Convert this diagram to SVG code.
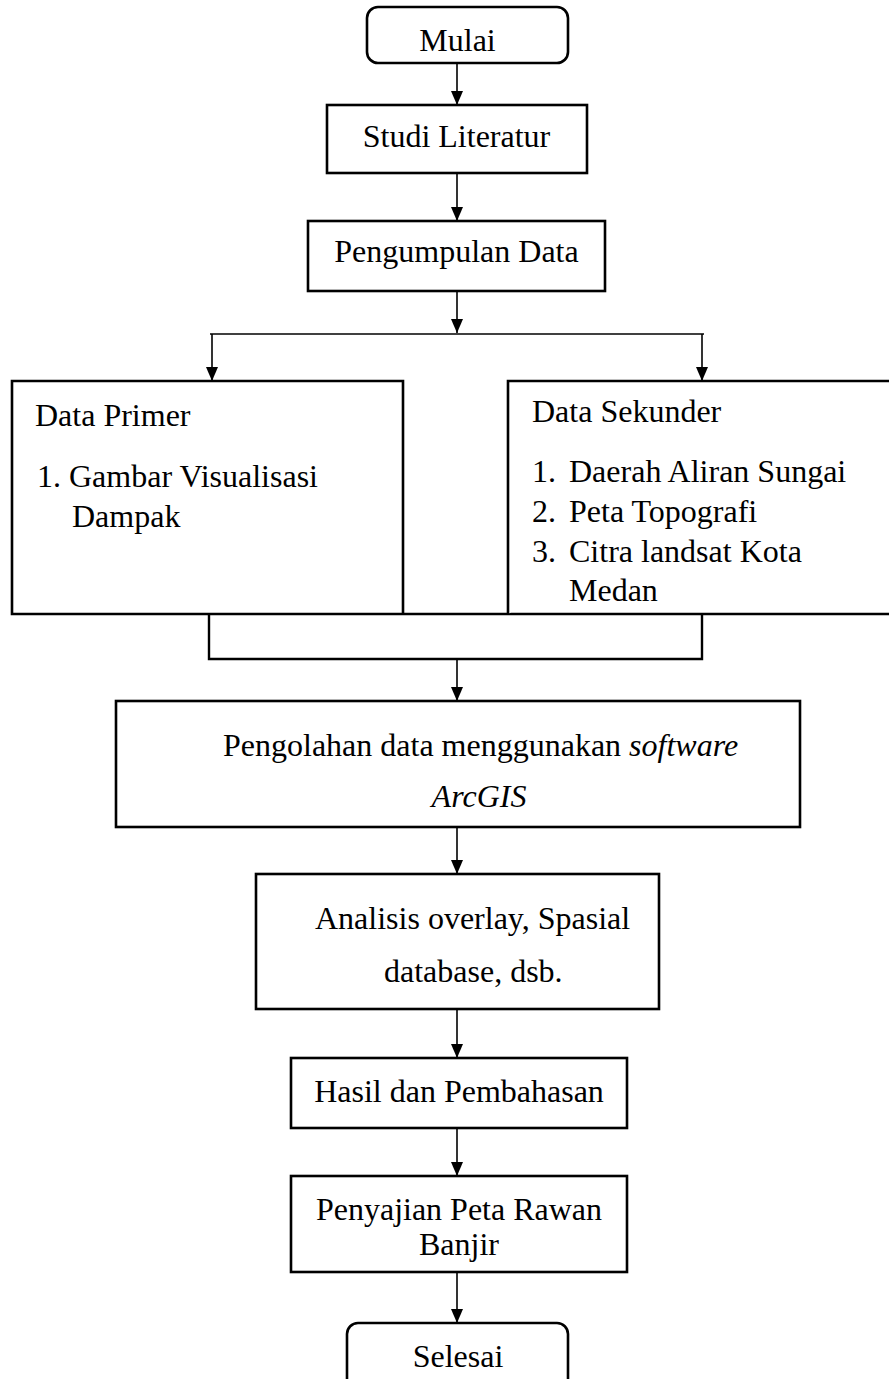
<svg xmlns="http://www.w3.org/2000/svg" width="889" height="1379" viewBox="0 0 889 1379">
<style>
.box{fill:#fff;stroke:#000;stroke-width:2.6}
.t{font-family:"Liberation Serif","Times New Roman",serif;font-size:32px;fill:#000}
.c{text-anchor:middle}
.conn{fill:none;stroke:#000;stroke-width:1.6}
.br{fill:none;stroke:#000;stroke-width:2.4}
</style>
<defs>
<marker id="ah" viewBox="0 0 14 12" refX="14" refY="6" markerWidth="14" markerHeight="12" markerUnits="userSpaceOnUse" orient="auto">
<path d="M0,0 L14,6 L0,12 z" fill="#000"/>
</marker>
</defs>
<rect width="889" height="1379" fill="#fff"/>
<g id="connectors">
<line class="conn" x1="457" y1="63" x2="457" y2="105" marker-end="url(#ah)"/>
<line class="conn" x1="457" y1="173" x2="457" y2="221" marker-end="url(#ah)"/>
<line class="conn" x1="457" y1="291" x2="457" y2="333" marker-end="url(#ah)"/>
<line class="conn" x1="210" y1="334" x2="704" y2="334"/>
<line class="conn" x1="212" y1="334" x2="212" y2="381" marker-end="url(#ah)"/>
<line class="conn" x1="702" y1="334" x2="702" y2="381" marker-end="url(#ah)"/>
<path class="br" d="M209,614 V659 H702 V614"/>
<line class="conn" x1="457" y1="659" x2="457" y2="701" marker-end="url(#ah)"/>
<line class="conn" x1="457" y1="827" x2="457" y2="874" marker-end="url(#ah)"/>
<line class="conn" x1="457" y1="1009" x2="457" y2="1058" marker-end="url(#ah)"/>
<line class="conn" x1="457" y1="1128" x2="457" y2="1176" marker-end="url(#ah)"/>
<line class="conn" x1="457" y1="1272" x2="457" y2="1323" marker-end="url(#ah)"/>
</g>
<g id="mulai">
<rect class="box" x="367" y="7" width="201" height="56" rx="11"/>
<text class="t c" x="457.5" y="51">Mulai</text>
</g>
<g id="studi">
<rect class="box" x="327" y="105" width="260" height="68"/>
<text class="t c" x="456.5" y="147">Studi Literatur</text>
</g>
<g id="pengumpulan">
<rect class="box" x="308" y="221" width="297" height="70"/>
<text class="t c" x="456.5" y="262">Pengumpulan Data</text>
</g>
<g id="data-primer">
<path class="box" d="M403,614 V381 H12 V614 H889"/>
<text class="t" x="35" y="426">Data Primer</text>
<text class="t" x="37" y="487">1. Gambar Visualisasi</text>
<text class="t" x="72" y="527">Dampak</text>
</g>
<g id="data-sekunder">
<path class="box" d="M895,381 H508 V614"/>
<text class="t" x="532" y="422">Data Sekunder</text>
<text class="t" x="532" y="482">1.</text><text class="t" x="569" y="482">Daerah Aliran Sungai</text>
<text class="t" x="532" y="522">2.</text><text class="t" x="569" y="522">Peta Topografi</text>
<text class="t" x="532" y="562">3.</text><text class="t" x="569" y="562">Citra landsat Kota</text>
<text class="t" x="569" y="601">Medan</text>
</g>
<g id="pengolahan">
<rect class="box" x="116" y="701" width="684" height="126"/>
<text class="t" x="223" y="756">Pengolahan data menggunakan <tspan font-style="italic">software</tspan></text>
<text class="t c" x="479" y="807" font-style="italic">ArcGIS</text>
</g>
<g id="analisis">
<rect class="box" x="256" y="874" width="403" height="135"/>
<text class="t" x="315" y="929">Analisis overlay, Spasial</text>
<text class="t" x="384" y="982">database, dsb.</text>
</g>
<g id="hasil">
<rect class="box" x="291" y="1058" width="336" height="70"/>
<text class="t c" x="459" y="1102">Hasil dan Pembahasan</text>
</g>
<g id="penyajian">
<rect class="box" x="291" y="1176" width="336" height="96"/>
<text class="t c" x="459" y="1220">Penyajian Peta Rawan</text>
<text class="t c" x="459" y="1255">Banjir</text>
</g>
<g id="selesai">
<rect class="box" x="347" y="1323" width="221" height="70" rx="11"/>
<text class="t c" x="458" y="1367">Selesai</text>
</g>
</svg>
